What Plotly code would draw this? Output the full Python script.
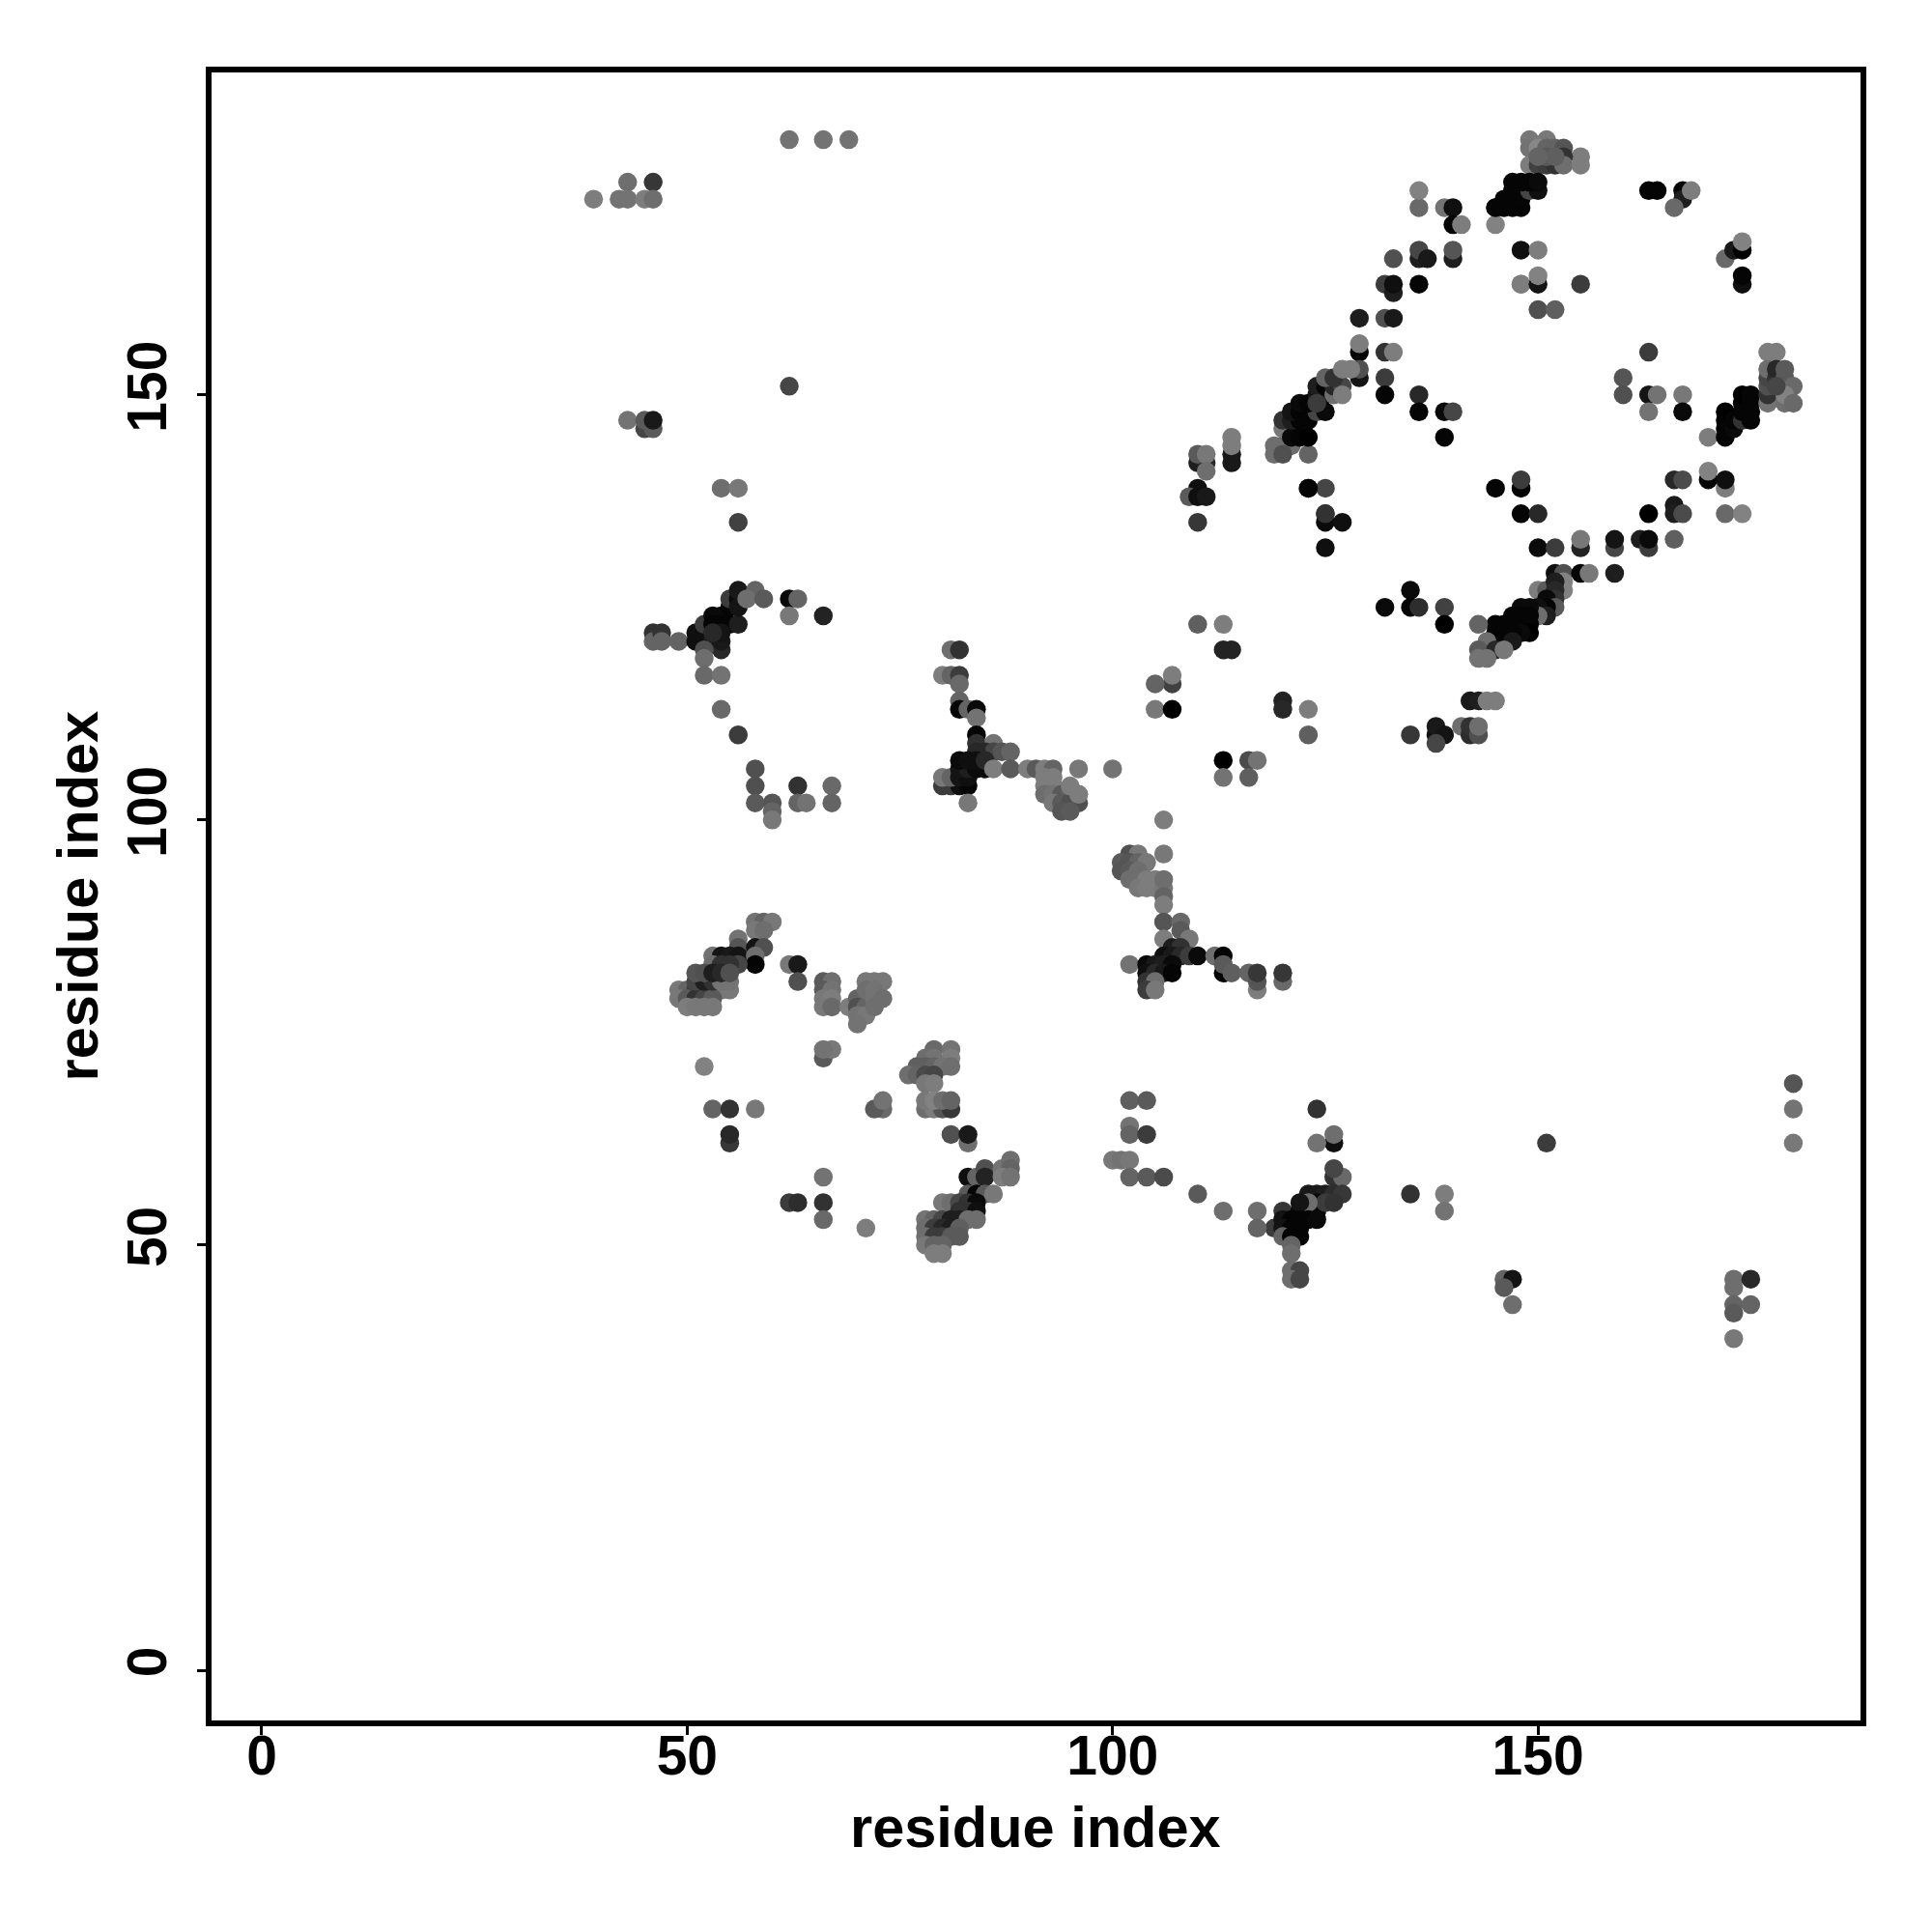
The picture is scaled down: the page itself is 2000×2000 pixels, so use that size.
import plotly.graph_objects as go

# upper-left isolated contacts
a_x = [62,66,69,43,46,39,42,43,45,46,62,45,46,43,45,46,54,56,56]
a_y = [180,180,180,175,175,173,173,173,173,173,151,146,146,147,147,147,139,139,135]
a_g = [115,115,115,110,55,125,115,115,125,110,70,70,90,115,90,25,110,120,65]

# upper band, x 109-145
b_x = [136,136,139,140,140,141,145,145,136,136,137,133,140,140,132,133,133,136,148,148,129,132,133,129,129,132,133,132,132,129,129,136,136,139,140,139]
b_y = [172,174,172,172,170,170,172,170,166,167,166,166,166,167,163,162,163,163,167,163,159,159,159,155,156,155,155,152,150,152,153,150,148,148,148,145]
b_g = [105,130,115,15,5,125,5,130,30,70,25,80,30,85,60,30,15,5,15,125,30,80,25,5,125,50,125,60,5,20,80,40,5,10,70,5]

c_x = [120,121,119,119,120,123,120,121,122,123,120,121,122,123,121,122,123,124,125,122,123,124,125,124,125,126,126,127,127,125,126,127,128,124]
c_y = [144,144,144,143,143,143,146,145,145,145,147,147,147,147,148,148,148,148,148,149,149,150,150,151,151,150,151,151,150,152,152,153,153,149]
c_g = [100,110,110,110,80,100,120,10,5,0,50,30,5,5,20,5,5,70,10,10,5,20,10,30,5,110,40,70,125,100,50,125,125,60]

d_x = [114,114,114,114,110,111,110,111,111,110,109,110,111,123,125,145,148,148,110]
d_y = [142,143,144,145,142,142,143,143,141,139,138,138,138,139,139,139,139,140,135]
d_g = [25,25,125,125,30,40,90,120,110,15,90,15,25,5,70,5,5,60,55]

# top-right cluster
e_x = [149,151,149,150,151,152,153,155,149,150,151,152,153,153,155,151,152,150]
e_y = [180,180,179,179,179,179,179,178,177,177,177,177,178,177,177,178,178,178]
e_g = [120,120,115,135,100,100,85,125,125,65,60,50,50,110,125,90,95,100]

f_x = [145,146,147,148,146,147,148,147,148,149,150,147,148,149,150]
f_y = [172,172,172,172,173,173,173,174,174,174,174,175,175,175,175]
f_g = [5,5,5,5,5,5,5,5,5,70,15,5,5,5,10]

g_x = [150,148,150,150,155,150,152,163,164,167,167,168,166,172,173,174,174,174,174]
g_y = [167,163,163,164,163,160,160,174,174,174,173,174,172,166,167,167,168,163,164]
g_g = [125,125,20,130,60,80,95,5,5,5,30,125,105,105,25,0,130,15,5]

# right cluster
h_x = [163,160,160,163,164,167,163,167,170,172,172,172,172,173,173,174,174,174,174,175,175,175,175]
h_y = [155,152,150,150,150,150,148,148,145,145,146,147,148,146,147,147,148,149,150,147,148,149,150]
h_g = [60,85,80,20,115,120,115,10,125,5,5,5,0,10,5,50,5,5,0,5,5,5,5]

i_x = [177,178,177,177,177,177,177,178,178,179,179,180,179,179,180,178]
i_y = [155,155,149,150,151,152,153,152,153,152,153,151,149,150,149,151]
i_g = [125,125,115,50,80,70,110,50,40,90,90,105,110,130,105,70]

# lower diagonal of the upper band
j_x = [166,167,170,170,172,172,148,150,163,166,166,167,172,174,150,152,155,155,159,159,162,163,163,166]
j_y = [140,140,140,141,139,140,136,136,136,137,136,136,136,136,132,132,132,133,132,133,133,132,133,133]
j_g = [40,75,5,130,125,15,5,40,0,25,30,75,105,130,10,60,35,120,70,20,30,60,10,95]

k_x = [152,153,155,156,159,150,151,153,153,152,152,152,151,152,151,150,151,150,148,149,149,148,147,147,148,149,149,148]
k_y = [129,129,129,129,129,127,127,128,127,128,127,126,126,125,125,125,124,124,125,125,124,124,124,123,123,123,122,122]
k_g = [15,80,5,120,30,125,90,130,130,30,40,50,10,90,5,15,30,110,10,10,5,5,5,5,5,5,0,10]

l_x = [146,145,143,145,146,147,145,146,147,144,144,143,145,146,143,144]
l_y = [123,123,123,122,122,122,121,121,121,121,120,120,120,120,119,119]
l_g = [5,5,100,5,5,5,5,5,25,110,110,90,40,120,115,115]

# mid-right scattered contacts
m_x = [123,125,125,125,127,125,135,132,135,136,139,139,110,113,113,114,107,107,105,105,107]
m_y = [139,136,135,136,135,132,127,125,125,125,125,123,123,123,120,120,116,117,116,113,113]
m_g = [5,50,10,50,15,15,10,10,5,45,65,0,95,125,35,35,65,125,100,120,0]

n_x = [120,120,123,123,142,143,144,145,135,138,138,139,138,141,142,142,143,143,113,116,117,113,116,106]
n_y = [114,113,113,110,114,114,114,114,110,110,111,110,109,111,110,111,110,111,107,107,107,105,105,100]
n_g = [35,40,125,95,25,30,125,125,55,15,25,20,70,110,45,50,80,110,0,75,115,115,95,125]

# central-upper arm
o_x = [81,82,80,81,82,82,82,82,83,84,84,84,84,86,85,86,87,88]
o_y = [120,120,117,117,117,116,114,113,113,113,112,110,109,109,108,108,108,108]
o_g = [110,50,125,100,60,105,100,5,100,10,115,5,50,115,40,70,85,100]

p_x = [84,80,81,82,83,80,81,82,83,82,83,84,85,82,83,84,85,86,88,83]
p_y = [108,104,104,104,104,105,105,105,105,106,106,106,106,107,107,107,107,106,106,102]
p_g = [40,60,60,15,5,120,100,20,15,20,30,10,10,10,15,15,40,125,90,120]

q_x = [90,91,92,93,96,100,92,93,92,93,92,93,94,95,96,93,94,95,96,94,95,95,96]
q_y = [106,106,106,106,106,106,105,105,104,104,103,103,103,103,103,102,102,102,102,101,101,104,103]
q_g = [125,90,125,100,120,115,125,125,125,125,110,115,90,100,125,120,90,80,80,85,90,125,125]

# central-lower arm
r_x = [102,103,101,102,103,104,101,102,103,102,103,104,105,103,104,105,106,106,106,106,106]
r_y = [96,96,95,95,95,95,94,94,94,93,93,93,93,92,92,92,92,96,93,91,90]
r_g = [80,120,90,85,100,120,85,90,110,110,110,125,125,120,125,125,120,120,110,100,125]

s_x = [106,108,108,109,106,107,108,106,107,108,109,110,102,104,105,106,107,104,105,106,107,104,105,104,105]
s_y = [88,88,87,86,86,85,85,84,84,84,84,84,83,83,83,83,83,82,82,82,82,81,81,80,80]
s_g = [85,105,90,120,125,30,50,15,25,40,60,10,115,10,25,30,10,15,40,25,5,50,110,60,120]

t_x = [113,112,113,113,114,116,117,117,117,120,120]
t_y = [82,84,84,83,82,82,80,81,82,81,82]
t_g = [0,110,5,90,95,100,125,85,55,105,55]

# left lower cluster
u_x = [58,59,60,58,59,56,56,58,59,53,54,55,56,58,58,56,53,54,55]
u_y = [88,88,88,87,87,86,85,85,85,84,84,84,84,84,83,83,83,83,83]
u_g = [115,100,120,120,110,115,85,20,80,115,20,25,20,110,5,70,110,50,50]

v_x = [49,50,51,52,53,54,55,49,50,51,52,53,50,51,52,53,51,52,53,54,55,51,52,53,54,55]
v_y = [80,80,80,80,80,80,80,79,79,79,79,79,78,78,78,78,81,81,81,81,81,82,82,82,82,82]
v_g = [120,100,60,45,70,120,120,120,90,50,70,90,125,120,120,120,70,30,50,115,115,85,80,30,40,80]

w_x = [62,63,63,66,67,66,67,66,67,66,67,69,70,70,71,70,71,70,71,72,73,71,72,72,73,72]
w_y = [83,83,81,81,81,80,80,79,79,78,78,78,79,78,78,77,77,76,81,81,81,80,80,79,79,78]
w_g = [120,25,80,90,110,90,115,120,125,120,105,125,100,80,100,115,120,115,120,120,120,110,115,115,110,110]

x_x = [52,66,67,66,53,55,58,55,55,73,72,73]
x_y = [71,72,73,73,66,66,66,62,63,66,66,67]
x_g = [130,90,120,115,100,50,120,55,40,105,90,115]

# contacts around x 76-88, y 66-73
y_x = [79,81,78,79,81,77,78,79,80,81,76,77,78,79,78,79]
y_y = [73,73,72,72,72,71,71,71,71,71,70,70,70,70,69,69]
y_g = [105,115,110,115,125,95,95,100,115,110,110,100,75,70,120,125]

z_x = [78,79,80,81,78,79,80,81,81,83,83,83,84,85,85,87,88,88,87,88]
z_y = [66,66,66,66,67,67,67,67,63,62,63,58,58,59,58,59,60,59,58,58]
z_g = [110,125,85,55,120,130,110,100,80,110,25,15,100,80,35,115,110,100,125,115]

aa_x = [83,84,85,86,80,81,82,83,84,82,83,84,78,79,80,81,82,83,84]
aa_y = [56,56,56,56,55,55,55,55,55,54,54,54,53,53,53,53,53,53,53]
aa_g = [90,5,90,120,120,110,70,50,10,50,50,15,115,100,70,30,30,110,110]

ab_x = [78,79,80,81,82,78,79,80,81,82,78,79,80,79,80,71]
ab_y = [52,52,52,52,52,51,51,51,51,51,50,50,50,49,49,52]
ab_g = [110,60,40,30,95,110,60,60,90,90,120,100,100,125,125,125]

ac_x = [66,62,63,66,66]
ac_y = [58,55,55,55,53]
ac_g = [115,60,45,50,105]

# lower-middle contacts
ad_x = [124,126,124,126,126,127,126,123,124,125,126,127,135,139,139]
ad_y = [66,62,62,63,58,58,59,56,56,56,56,56,56,56,54]
ad_g = [50,15,115,110,50,105,70,25,25,30,45,55,50,125,115]

ae_x = [120,117,122,123,124,124,125,126,123,122,119,120,121,122,123,124,117,120,121,122,120,121,122,121,121,121,122,121,122]
ae_y = [54,54,54,54,54,55,55,55,55,55,52,53,53,53,53,53,52,52,52,52,51,51,51,50,49,47,47,46,46]
ae_g = [55,110,10,5,5,10,60,50,110,20,60,20,5,5,5,10,100,20,5,5,100,5,5,100,110,110,70,110,70]

af_x = [102,104,102,102,104,100,101,102,102,104,106,110,113]
af_y = [67,67,64,63,63,60,60,60,58,58,58,56,54]
af_g = [95,90,115,100,60,120,115,120,100,90,75,90,110]

ag_x = [151,180,180,180,146,147,146,147,173,175,173,173,175,173,173]
ag_y = [62,69,66,62,46,46,45,43,46,46,45,43,43,42,39]
ag_g = [60,85,115,120,100,20,90,110,110,40,110,100,100,90,120]

# left-middle contacts
ah_x = [46,46,47,47,49,51,52,51,52,53,54,52,52,52,54,54]
ah_y = [122,121,122,121,121,122,122,121,121,121,120,120,119,117,121,117]
ah_g = [50,100,50,100,100,15,15,15,15,30,40,80,110,105,25,115]

ai_x = [52,53,54,53,54,55,56,55,55,56,56,56,58,57,59,54,53]
ai_y = [123,124,124,123,123,123,123,125,126,126,127,125,127,126,126,122,122]
ai_g = [60,10,10,5,5,5,30,5,60,10,25,20,100,110,90,20,40]

aj_x = [54,56,58,58,58,60,60,60,63,63,64,67,67,62,63,62,66]
aj_y = [113,110,106,104,102,102,101,100,104,102,102,104,102,126,126,124,124]
aj_g = [105,60,80,80,90,85,100,120,50,100,115,105,100,10,100,120,35]

groups = [
    (a_x,a_y,a_g),(b_x,b_y,b_g),(c_x,c_y,c_g),(d_x,d_y,d_g),(e_x,e_y,e_g),(f_x,f_y,f_g),
    (g_x,g_y,g_g),(h_x,h_y,h_g),(i_x,i_y,i_g),(j_x,j_y,j_g),(k_x,k_y,k_g),(l_x,l_y,l_g),
    (m_x,m_y,m_g),(n_x,n_y,n_g),(o_x,o_y,o_g),(p_x,p_y,p_g),(q_x,q_y,q_g),(r_x,r_y,r_g),
    (s_x,s_y,s_g),(t_x,t_y,t_g),(u_x,u_y,u_g),(v_x,v_y,v_g),(w_x,w_y,w_g),(x_x,x_y,x_g),
    (y_x,y_y,y_g),(z_x,z_y,z_g),(aa_x,aa_y,aa_g),(ab_x,ab_y,ab_g),(ac_x,ac_y,ac_g),
    (ad_x,ad_y,ad_g),(ae_x,ae_y,ae_g),(af_x,af_y,af_g),(ag_x,ag_y,ag_g),(ah_x,ah_y,ah_g),
    (ai_x,ai_y,ai_g),(aj_x,aj_y,aj_g),
]

tick_vals = [0, 50, 100, 150]
axis_range = [-5.9, 187.9]
FONT = "Liberation Sans"
axis_title = "residue index"

fig = go.Figure()
for xs, ys, gs in groups:
    fig.add_trace(go.Scatter(
        x=xs, y=ys, mode="markers", showlegend=False, hoverinfo="skip",
        marker=dict(size=19.5, color=[f"rgb({g},{g},{g})" for g in gs], line=dict(width=0)),
    ))

axis_common = dict(
    range=axis_range, tickmode="array", tickvals=tick_vals, ticktext=[str(t) for t in tick_vals],
    showgrid=False, zeroline=False, showline=True, mirror=True, linecolor="black", linewidth=6,
    ticks="outside", ticklen=9, tickwidth=3, tickcolor="black",
    tickfont=dict(family=FONT, size=57, color="black", weight="bold"),
)
fig.update_xaxes(**axis_common, ticklabelstandoff=-27)
fig.update_yaxes(**axis_common, tickangle=-90, ticklabelstandoff=9)
title_font = dict(family=FONT, size=59.5, color="black", weight="bold")
fig.add_annotation(text=axis_title, xref="paper", yref="paper", x=0.5, y=0, xanchor="center", yanchor="middle",
                   xshift=-1, yshift=-110.6, showarrow=False, font=title_font)
fig.add_annotation(text=axis_title, xref="paper", yref="paper", x=0, y=0.5, xanchor="center", yanchor="middle",
                   xshift=-138.6, yshift=1, textangle=-90, showarrow=False, font=title_font)
fig.update_layout(
    width=1984, height=1984, autosize=False, paper_bgcolor="white", plot_bgcolor="white",
    margin=dict(l=211, r=66, t=67, b=211, autoexpand=False),
)
fig.write_html("out.html")
